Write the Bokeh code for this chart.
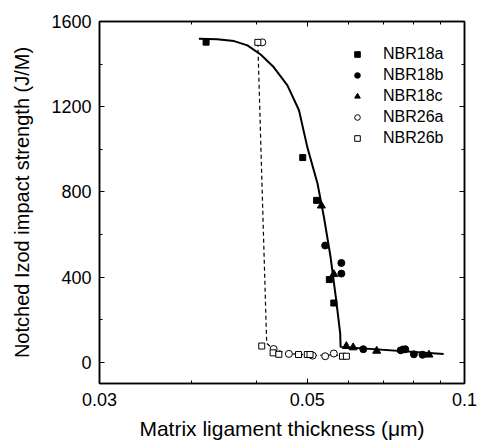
from bokeh.plotting import figure
from bokeh.models import FixedTicker, LogAxis, LinearAxis, Legend, LegendItem, Range1d
from bokeh.embed import file_html
from bokeh.resources import INLINE

FONT = "Liberation Sans"

# ---- data ----
nbr18a_x = [0.0320, 0.0490, 0.0521, 0.0551, 0.0562]
nbr18a_y = [1503, 961, 760, 388, 278]
nbr18b_x = [0.0541, 0.0581, 0.0581, 0.0640, 0.0755, 0.0770, 0.0800, 0.0831]
nbr18b_y = [548, 466, 416, 61, 56, 61, 37, 35]
nbr18c_x = [0.0532, 0.0562, 0.0594, 0.0612, 0.0679, 0.0760, 0.0855]
nbr18c_y = [735, 413, 75, 69, 53, 56, 35]
nbr26a_x = [0.0410, 0.0431, 0.0461, 0.0512, 0.0541, 0.0562]
nbr26a_y = [1502, 62, 39, 31, 28, 41]
nbr26b_x = [0.0402, 0.0409, 0.0430, 0.0441, 0.0481, 0.0500, 0.0506, 0.0584, 0.0594]
nbr26b_y = [1502, 76, 44, 37, 36, 36, 36, 28, 28]

fit18_x = [0.0310, 0.0336, 0.0362, 0.0384, 0.0407, 0.0431, 0.0458, 0.0482, 0.0500,
           0.0523, 0.0538, 0.0554, 0.0567, 0.0578, 0.0579, 0.0912]
fit18_y = [1519, 1517, 1508, 1488, 1445, 1386, 1300, 1183, 1010,
           839, 682, 494, 306, 135, 72, 38]
fit26_x = [0.0402, 0.0418, 0.0431, 0.0461, 0.0512, 0.0562, 0.0594]
fit26_y = [1500, 89, 60, 40, 32, 34, 28]

x_major = [0.02, 0.05, 0.1]
x_major_labels = ["0.03", "0.05", "0.1"]
x_minor = [0.03, 0.04, 0.06, 0.07, 0.08, 0.09]
y_major = [0, 400, 800, 1200, 1600]
y_minor = [200, 600, 1000, 1400]

p = figure(x_axis_type="log", x_range=Range1d(0.02, 0.1), y_range=Range1d(-100, 1600),
           frame_width=365, frame_height=362,
           min_border_left=99, min_border_right=13, min_border_top=21, min_border_bottom=61,
           output_backend="svg", toolbar_location=None)
p.background_fill_color = "white"
p.border_fill_color = "white"
p.outline_line_color = "black"
p.outline_line_width = 1.5
p.xgrid.visible = False
p.ygrid.visible = False

xt = FixedTicker(ticks=x_major, minor_ticks=x_minor)
yt = FixedTicker(ticks=y_major, minor_ticks=y_minor)

def style(ax):
    ax.axis_line_color = "black"
    ax.axis_line_width = 1.5
    ax.major_tick_in = 5
    ax.major_tick_out = 0
    ax.minor_tick_in = 3
    ax.minor_tick_out = 0
    ax.major_tick_line_color = "black"
    ax.minor_tick_line_color = "black"
    ax.major_label_text_font = FONT
    ax.major_label_text_font_size = "18px"
    ax.major_label_text_color = "black"
    ax.axis_label_text_font = FONT
    ax.axis_label_text_font_size = "20px"
    ax.axis_label_text_font_style = "normal"
    ax.axis_label_text_color = "black"

xa = p.xaxis[0]
xa.ticker = xt
xa.major_label_overrides = {v: s for v, s in zip(x_major, x_major_labels)}
style(xa)
xa.major_label_standoff = 9
xa.axis_label = "Matrix ligament thickness (\u03bcm)"
xa.axis_label_text_font_size = "21px"
xa.axis_label_standoff = 8

ya = p.yaxis[0]
ya.ticker = yt
style(ya)
ya.major_label_standoff = 8
ya.axis_label = "Notched Izod impact strength (J/M)"
ya.axis_label_standoff = 15

top = LogAxis(ticker=xt)
right = LinearAxis(ticker=yt)
for ax in (top, right):
    style(ax)
    ax.major_label_text_font_size = "1px"
    ax.major_label_text_color = None
    ax.major_label_standoff = 0
p.add_layout(top, "above")
p.add_layout(right, "right")

# ---- fitted curves ----
p.line(fit18_x, fit18_y, line_color="black", line_width=2)
p.line(fit26_x, fit26_y, line_color="black", line_width=1.2, line_dash="4 3")

# ---- points ----
r1 = p.scatter(nbr18a_x, nbr18a_y, marker="square", size=6, fill_color="black", line_color="black")
r2 = p.scatter(nbr18b_x, nbr18b_y, marker="circle", size=7, fill_color="black", line_color="black")
r3 = p.scatter(nbr18c_x, nbr18c_y, marker="triangle", size=8, fill_color="black", line_color="black")
r4 = p.scatter(nbr26a_x, nbr26a_y, marker="circle", size=7, fill_color="white", line_color="black", line_width=1)
r5 = p.scatter(nbr26b_x, nbr26b_y, marker="square", size=6, fill_color="white", line_color="black", line_width=1)

legend = Legend(items=[LegendItem(label="NBR18a", renderers=[r1]),
                       LegendItem(label="NBR18b", renderers=[r2]),
                       LegendItem(label="NBR18c", renderers=[r3]),
                       LegendItem(label="NBR26a", renderers=[r4]),
                       LegendItem(label="NBR26b", renderers=[r5])],
                location=(251, 235))
legend.padding = 0
legend.margin = 0
legend.spacing = 0
legend.glyph_width = 14
legend.glyph_height = 14
legend.label_height = 21
legend.label_standoff = 19
legend.label_text_font = FONT
legend.label_text_font_size = "16px"
legend.label_text_color = "black"
legend.border_line_color = None
legend.background_fill_alpha = 0
p.add_layout(legend, "center")

open("out.html", "w").write(file_html(p, INLINE))
